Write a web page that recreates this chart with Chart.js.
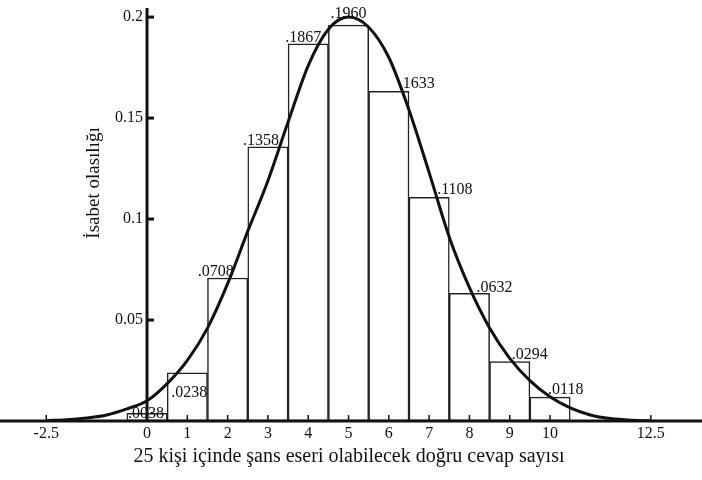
<!DOCTYPE html>
<html>
<head>
<meta charset="utf-8">
<script src="https://cdn.jsdelivr.net/npm/chart.js@4"></script>
<style>
  body { margin: 0; background: #fff; }
  #wrap { width: 702px; height: 480px; }
</style>
</head>
<body>
<div id="wrap"><canvas id="chart" width="702" height="480"></canvas></div>
<script>
// Binomial histogram (n = 25) with normal curve overlay

// bar data: number of correct answers and their probability
const counts = [0, 1, 2, 3, 4, 5, 6, 7, 8, 9, 10];
const probs = [0.0038, 0.0238, 0.0708, 0.1358, 0.1867, 0.1960, 0.1633, 0.1108, 0.0632, 0.0294, 0.0118];
const probLabels = ['.0038', '.0238', '.0708', '.1358', '.1867', '.1960', '.1633', '.1108', '.0632', '.0294', '.0118'];

// curve
const curveX = [-2.5, -2, -1.5, -1, -0.5, 0, 0.5, 1, 1.5, 2, 2.5, 3, 3.5, 4, 4.5, 5, 5.5, 6, 6.5, 7, 7.5, 8, 8.5, 9, 9.5, 10, 10.5, 11, 11.5, 12, 12.5];
const curveY = [0.0002, 0.0006, 0.0015, 0.003, 0.006, 0.010, 0.0185, 0.030, 0.046, 0.068, 0.094, 0.119, 0.148, 0.176, 0.194, 0.200, 0.195, 0.180, 0.154, 0.123, 0.091, 0.066, 0.046, 0.031, 0.020, 0.012, 0.0065, 0.003, 0.0012, 0.0004, 0.0001];

// axis ticks
const xTicks = [-2.5, 0, 1, 2, 3, 4, 5, 6, 7, 8, 9, 10, 12.5];
const yTicks = [0.05, 0.1, 0.15, 0.2];
const yTickLabels = ['0.05', '0.1', '0.15', '0.2'];

const xTitle = '25 kişi içinde şans eseri olabilecek doğru cevap sayısı';
const yTitle = 'İsabet olasılığı';

const FONT = '"Liberation Serif", "DejaVu Serif", serif';
const INK = '#111';

// label placement: pixel shift of label start from bar centre, baseline shift from bar top
const labelShift = [[-19, 5], [-16, 24], [-30, -2], [-25, -2], [-23, -2], [-18, -7], [10, -3], [8, -3], [7, -1], [2, -3], [-2, -3]];

const axesPlugin = {
    id: 'axesPlugin',
    afterDatasetsDraw(chart) {
        const ctx = chart.ctx;
        const xs = chart.scales.x;
        const ys = chart.scales.y;
        const area = chart.chartArea;
        const x0 = xs.getPixelForValue(0);
        const y0 = ys.getPixelForValue(0);

        ctx.save();
        ctx.strokeStyle = INK;
        ctx.fillStyle = INK;

        // value labels
        ctx.font = '16px ' + FONT;
        ctx.textAlign = 'left';
        ctx.textBaseline = 'alphabetic';
        counts.forEach((c, i) => {
            const px = xs.getPixelForValue(c) + labelShift[i][0];
            const py = ys.getPixelForValue(probs[i]) + labelShift[i][1];
            ctx.fillText(probLabels[i], px, py);
        });

        // x axis line
        ctx.lineWidth = 3;
        ctx.beginPath();
        ctx.moveTo(0, y0);
        ctx.lineTo(chart.width, y0);
        ctx.stroke();

        // y axis line
        ctx.beginPath();
        ctx.moveTo(x0, y0);
        ctx.lineTo(x0, area.top);
        ctx.stroke();

        // x ticks
        ctx.lineWidth = 1.5;
        ctx.font = '16px ' + FONT;
        ctx.textAlign = 'center';
        ctx.textBaseline = 'middle';
        xTicks.forEach(v => {
            const px = xs.getPixelForValue(v);
            if (v !== 0) {
                ctx.beginPath();
                ctx.moveTo(px, y0);
                ctx.lineTo(px, y0 - 6);
                ctx.stroke();
            }
            ctx.fillText(String(v), px, y0 + 13);
        });

        // y ticks
        ctx.lineWidth = 3;
        ctx.textAlign = 'right';
        yTicks.forEach((v, i) => {
            const py = ys.getPixelForValue(v);
            ctx.beginPath();
            ctx.moveTo(x0, py);
            ctx.lineTo(x0 + 7, py);
            ctx.stroke();
            ctx.fillText(yTickLabels[i], x0 - 4, py);
        });

        // titles
        ctx.font = '20px ' + FONT;
        ctx.textAlign = 'center';
        ctx.fillText(xTitle, 349, 457);

        ctx.translate(94, 183);
        ctx.rotate(-Math.PI / 2);
        ctx.font = '19px ' + FONT;
        ctx.fillText(yTitle, 0, 0);
        ctx.restore();
    }
};

new Chart(document.getElementById('chart'), {
    type: 'bar',
    data: {
        datasets: [
            {
                type: 'line',
                data: curveX.map((x, i) => ({ x: x, y: curveY[i] })),
                borderColor: INK,
                borderWidth: 3,
                pointRadius: 0,
                cubicInterpolationMode: 'monotone',
                fill: false,
                order: 0
            },
            {
                type: 'bar',
                data: counts.map((c, i) => ({ x: c, y: probs[i] })),
                backgroundColor: '#fff',
                borderColor: '#222',
                borderWidth: 1.5,
                borderSkipped: false,
                barPercentage: 1,
                categoryPercentage: 1,
                order: 1
            }
        ]
    },
    options: {
        responsive: false,
        animation: false,
        layout: { padding: { top: 8, bottom: 59, left: 0, right: 0 } },
        plugins: {
            legend: { display: false },
            tooltip: { enabled: false }
        },
        scales: {
            x: { type: 'linear', min: -3.648, max: 13.77, offset: false, display: false },
            y: { min: 0, max: 0.2045, display: false }
        }
    },
    plugins: [axesPlugin]
});
</script>
</body>
</html>
